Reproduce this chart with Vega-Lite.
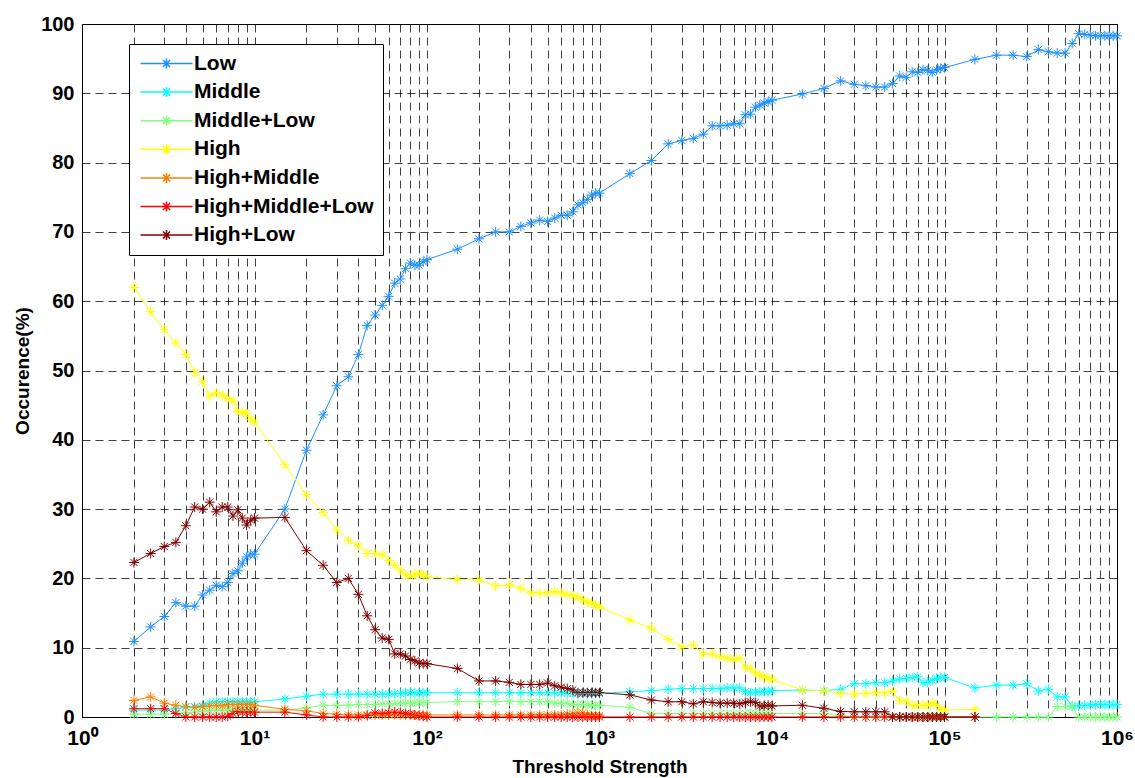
{
  "$schema": "https://vega.github.io/schema/vega-lite/v6.json",
  "width": 1035,
  "height": 693,
  "autosize": {"type": "none"},
  "padding": {"left": 82, "top": 24, "right": 18, "bottom": 61},
  "background": "white",
  "config": {"view": {"stroke": "black", "strokeWidth": 1}, "font": "Liberation Sans"},
  "data": {"values": [
    {"x":2,"Low":10.9,"Middle":1.0,"Middle+Low":0.4,"High":62.0,"High+Middle":2.4,"High+Middle+Low":1.2,"High+Low":22.3},
    {"x":2.5,"Low":13.0,"Middle":1.0,"Middle+Low":0.4,"High":58.5,"High+Middle":2.9,"High+Middle+Low":1.2,"High+Low":23.6},
    {"x":3,"Low":14.5,"Middle":1.0,"Middle+Low":0.4,"High":55.9,"High+Middle":2.0,"High+Middle+Low":1.2,"High+Low":24.6},
    {"x":3.5,"Low":16.5,"Middle":1.2,"Middle+Low":0.5,"High":54.0,"High+Middle":1.7,"High+Middle+Low":0.5,"High+Low":25.2},
    {"x":4,"Low":16.0,"Middle":1.4,"Middle+Low":0.6,"High":52.3,"High+Middle":1.5,"High+Middle+Low":0,"High+Low":27.6},
    {"x":4.5,"Low":16.0,"Middle":1.5,"Middle+Low":0.7,"High":49.7,"High+Middle":1.4,"High+Middle+Low":0,"High+Low":30.3},
    {"x":5,"Low":17.6,"Middle":1.7,"Middle+Low":0.8,"High":48.4,"High+Middle":1.5,"High+Middle+Low":0,"High+Low":30.0},
    {"x":5.5,"Low":18.3,"Middle":2.0,"Middle+Low":0.9,"High":46.3,"High+Middle":1.6,"High+Middle+Low":0,"High+Low":31.0},
    {"x":6,"Low":19.0,"Middle":2.2,"Middle+Low":1.0,"High":46.8,"High+Middle":1.7,"High+Middle+Low":0,"High+Low":29.6},
    {"x":6.5,"Low":18.8,"Middle":2.2,"Middle+Low":1.0,"High":46.4,"High+Middle":1.6,"High+Middle+Low":0,"High+Low":30.3},
    {"x":7,"Low":19.4,"Middle":2.2,"Middle+Low":1.0,"High":46.0,"High+Middle":1.8,"High+Middle+Low":0.1,"High+Low":30.3},
    {"x":7.5,"Low":20.7,"Middle":2.2,"Middle+Low":1.0,"High":45.6,"High+Middle":1.8,"High+Middle+Low":0.5,"High+Low":29.0},
    {"x":8,"Low":21.1,"Middle":2.2,"Middle+Low":1.0,"High":44.1,"High+Middle":1.8,"High+Middle+Low":0.8,"High+Low":29.9},
    {"x":8.5,"Low":22.2,"Middle":2.2,"Middle+Low":1.0,"High":43.9,"High+Middle":1.8,"High+Middle+Low":0.7,"High+Low":28.7},
    {"x":9,"Low":23.1,"Middle":2.2,"Middle+Low":1.0,"High":43.8,"High+Middle":1.8,"High+Middle+Low":0.7,"High+Low":27.7},
    {"x":9.5,"Low":23.5,"Middle":2.2,"Middle+Low":1.0,"High":42.9,"High+Middle":1.8,"High+Middle+Low":0.7,"High+Low":28.4},
    {"x":10,"Low":23.5,"Middle":2.2,"Middle+Low":1.0,"High":42.6,"High+Middle":1.7,"High+Middle+Low":0.7,"High+Low":28.7},
    {"x":15,"Low":30.0,"Middle":2.6,"Middle+Low":1.0,"High":36.4,"High+Middle":1.1,"High+Middle+Low":0.7,"High+Low":28.8},
    {"x":20,"Low":38.5,"Middle":3.0,"Middle+Low":1.3,"High":32.1,"High+Middle":0.9,"High+Middle+Low":0.3,"High+Low":24.0},
    {"x":25,"Low":43.6,"Middle":3.3,"Middle+Low":1.7,"High":29.5,"High+Middle":0.5,"High+Middle+Low":0,"High+Low":21.9},
    {"x":30,"Low":47.8,"Middle":3.3,"Middle+Low":1.7,"High":27.0,"High+Middle":0.4,"High+Middle+Low":0,"High+Low":19.4},
    {"x":35,"Low":49.1,"Middle":3.3,"Middle+Low":1.7,"High":25.5,"High+Middle":0.3,"High+Middle+Low":0,"High+Low":20.0},
    {"x":40,"Low":52.3,"Middle":3.3,"Middle+Low":1.8,"High":24.7,"High+Middle":0.3,"High+Middle+Low":0,"High+Low":17.7},
    {"x":45,"Low":56.5,"Middle":3.3,"Middle+Low":1.8,"High":23.6,"High+Middle":0.3,"High+Middle+Low":0.2,"High+Low":14.6},
    {"x":50,"Low":58.0,"Middle":3.3,"Middle+Low":1.8,"High":23.6,"High+Middle":0.3,"High+Middle+Low":0.6,"High+Low":12.6},
    {"x":55,"Low":59.4,"Middle":3.3,"Middle+Low":1.9,"High":23.4,"High+Middle":0.3,"High+Middle+Low":0.5,"High+Low":11.4},
    {"x":60,"Low":60.7,"Middle":3.3,"Middle+Low":1.9,"High":22.6,"High+Middle":0.3,"High+Middle+Low":0.6,"High+Low":11.2},
    {"x":65,"Low":62.6,"Middle":3.4,"Middle+Low":1.9,"High":21.9,"High+Middle":0.3,"High+Middle+Low":0.7,"High+Low":9.1},
    {"x":70,"Low":63.2,"Middle":3.4,"Middle+Low":2.0,"High":21.2,"High+Middle":0.3,"High+Middle+Low":0.6,"High+Low":9.1},
    {"x":75,"Low":64.7,"Middle":3.5,"Middle+Low":2.0,"High":20.5,"High+Middle":0.3,"High+Middle+Low":0.5,"High+Low":8.8},
    {"x":80,"Low":65.5,"Middle":3.5,"Middle+Low":2.0,"High":20.3,"High+Middle":0.3,"High+Middle+Low":0.4,"High+Low":8.3},
    {"x":85,"Low":65.2,"Middle":3.5,"Middle+Low":2.1,"High":20.6,"High+Middle":0.3,"High+Middle+Low":0.3,"High+Low":8.1},
    {"x":90,"Low":65.2,"Middle":3.5,"Middle+Low":2.1,"High":20.7,"High+Middle":0.3,"High+Middle+Low":0.2,"High+Low":7.8},
    {"x":95,"Low":65.7,"Middle":3.5,"Middle+Low":2.1,"High":20.5,"High+Middle":0.3,"High+Middle+Low":0.1,"High+Low":7.7},
    {"x":100,"Low":66.0,"Middle":3.5,"Middle+Low":2.1,"High":20.3,"High+Middle":0.3,"High+Middle+Low":0,"High+Low":7.7},
    {"x":150,"Low":67.5,"Middle":3.5,"Middle+Low":2.2,"High":19.8,"High+Middle":0.3,"High+Middle+Low":0,"High+Low":7.0},
    {"x":200,"Low":69.0,"Middle":3.5,"Middle+Low":2.2,"High":19.8,"High+Middle":0.3,"High+Middle+Low":0,"High+Low":5.2},
    {"x":250,"Low":70.0,"Middle":3.5,"Middle+Low":2.2,"High":18.9,"High+Middle":0.3,"High+Middle+Low":0,"High+Low":5.2},
    {"x":300,"Low":70.0,"Middle":3.5,"Middle+Low":2.3,"High":19.1,"High+Middle":0.3,"High+Middle+Low":0,"High+Low":5.0},
    {"x":350,"Low":70.8,"Middle":3.5,"Middle+Low":2.2,"High":18.6,"High+Middle":0.3,"High+Middle+Low":0,"High+Low":4.7},
    {"x":400,"Low":71.3,"Middle":3.5,"Middle+Low":2.2,"High":17.9,"High+Middle":0.3,"High+Middle+Low":0,"High+Low":4.7},
    {"x":450,"Low":71.7,"Middle":3.5,"Middle+Low":2.2,"High":17.9,"High+Middle":0.3,"High+Middle+Low":0,"High+Low":4.7},
    {"x":500,"Low":71.5,"Middle":3.5,"Middle+Low":2.2,"High":17.9,"High+Middle":0.3,"High+Middle+Low":0,"High+Low":4.9},
    {"x":550,"Low":72.0,"Middle":3.5,"Middle+Low":2.0,"High":18.1,"High+Middle":0.3,"High+Middle+Low":0,"High+Low":4.5},
    {"x":600,"Low":72.4,"Middle":3.5,"Middle+Low":2.0,"High":17.9,"High+Middle":0.3,"High+Middle+Low":0,"High+Low":4.3},
    {"x":650,"Low":72.4,"Middle":3.4,"Middle+Low":2.0,"High":17.7,"High+Middle":0.4,"High+Middle+Low":0,"High+Low":4.1},
    {"x":700,"Low":72.9,"Middle":3.4,"Middle+Low":1.8,"High":17.5,"High+Middle":0.5,"High+Middle+Low":0,"High+Low":3.9},
    {"x":750,"Low":73.9,"Middle":3.4,"Middle+Low":1.8,"High":17.3,"High+Middle":0.6,"High+Middle+Low":0,"High+Low":3.5},
    {"x":800,"Low":74.2,"Middle":3.4,"Middle+Low":1.8,"High":16.9,"High+Middle":0.6,"High+Middle+Low":0,"High+Low":3.5},
    {"x":850,"Low":74.7,"Middle":3.4,"Middle+Low":1.8,"High":16.6,"High+Middle":0.3,"High+Middle+Low":0,"High+Low":3.5},
    {"x":900,"Low":75.3,"Middle":3.4,"Middle+Low":1.7,"High":16.4,"High+Middle":0.2,"High+Middle+Low":0,"High+Low":3.5},
    {"x":950,"Low":75.6,"Middle":3.4,"Middle+Low":1.7,"High":16.2,"High+Middle":0.2,"High+Middle+Low":0,"High+Low":3.5},
    {"x":1000,"Low":75.6,"Middle":3.4,"Middle+Low":1.7,"High":15.9,"High+Middle":0.2,"High+Middle+Low":0,"High+Low":3.5},
    {"x":1500,"Low":78.4,"Middle":3.65,"Middle+Low":1.4,"High":14.0,"High+Middle+Low":0,"High+Low":3.2},
    {"x":2000,"Low":80.3,"Middle":3.8,"Middle+Low":0.5,"High":12.8,"High+Middle+Low":0,"High+Low":2.45},
    {"x":2500,"Low":82.7,"Middle":4.0,"Middle+Low":0.5,"High":11.2,"High+Middle+Low":0,"High+Low":2.2},
    {"x":3000,"Low":83.2,"Middle":4.1,"Middle+Low":0.5,"High":10.1,"High+Middle+Low":0,"High+Low":2.2},
    {"x":3500,"Low":83.5,"Middle":4.1,"Middle+Low":0.5,"High":10.4,"High+Middle+Low":0,"High+Low":1.9},
    {"x":4000,"Low":84.1,"Middle":4.1,"Middle+Low":0.5,"High":9.1,"High+Middle+Low":0,"High+Low":2.2},
    {"x":4500,"Low":85.3,"Middle":4.1,"Middle+Low":0.5,"High":9.1,"High+Middle+Low":0,"High+Low":2.1},
    {"x":5000,"Low":85.3,"Middle":4.1,"Middle+Low":0.5,"High":8.7,"High+Middle+Low":0,"High+Low":2.0},
    {"x":5500,"Low":85.4,"Middle":4.2,"Middle+Low":0.5,"High":8.5,"High+Middle+Low":0,"High+Low":2.0},
    {"x":6000,"Low":85.6,"Middle":4.2,"Middle+Low":0.5,"High":8.3,"High+Middle+Low":0,"High+Low":2.0},
    {"x":6500,"Low":85.6,"Middle":4.2,"Middle+Low":0.5,"High":8.5,"High+Middle+Low":0,"High+Low":1.9},
    {"x":7000,"Low":86.9,"Middle":3.65,"Middle+Low":0.5,"High":7.2,"High+Middle+Low":0,"High+Low":2.1},
    {"x":7500,"Low":87.0,"Middle":3.5,"Middle+Low":0.5,"High":7.0,"High+Middle+Low":0,"High+Low":2.2},
    {"x":8000,"Low":88.0,"Middle":3.6,"Middle+Low":0.5,"High":6.4,"High+Middle+Low":0,"High+Low":2.1},
    {"x":8500,"Low":88.3,"Middle":3.6,"Middle+Low":0.5,"High":6.0,"High+Middle+Low":0,"High+Low":1.6},
    {"x":9000,"Low":88.6,"Middle":3.7,"Middle+Low":0.5,"High":5.8,"High+Middle+Low":0,"High+Low":1.6},
    {"x":9500,"Low":88.8,"Middle":3.7,"Middle+Low":0.5,"High":5.6,"High+Middle+Low":0,"High+Low":1.7},
    {"x":10000,"Low":89.0,"Middle":3.8,"Middle+Low":0.5,"High":5.4,"High+Middle+Low":0,"High+Low":1.6},
    {"x":15000,"Low":89.9,"Middle":3.9,"Middle+Low":0.5,"High":3.9,"High+Middle+Low":0,"High+Low":1.7},
    {"x":20000,"Low":90.7,"Middle":3.8,"Middle+Low":0.5,"High":3.8,"High+Middle+Low":0,"High+Low":1.25},
    {"x":25000,"Low":91.8,"Middle":4.0,"Middle+Low":0.2,"High":3.4,"High+Middle+Low":0,"High+Low":0.8},
    {"x":30000,"Low":91.3,"Middle":4.8,"Middle+Low":0,"High":3.3,"High+Middle+Low":0,"High+Low":0.75},
    {"x":35000,"Low":91.1,"Middle":4.8,"Middle+Low":0,"High":3.4,"High+Middle+Low":0,"High+Low":0.75},
    {"x":40000,"Low":90.9,"Middle":4.95,"Middle+Low":0,"High":3.5,"High+Middle+Low":0,"High+Low":0.75},
    {"x":45000,"Low":90.9,"Middle":4.95,"Middle+Low":0,"High":3.5,"High+Middle+Low":0,"High+Low":0.75},
    {"x":50000,"Low":91.4,"Middle":5.2,"Middle+Low":0,"High":3.7,"High+Middle+Low":0,"High+Low":0},
    {"x":55000,"Low":92.5,"Middle":5.5,"Middle+Low":0,"High":2.4,"High+Middle+Low":0,"High+Low":0},
    {"x":60000,"Low":92.3,"Middle":5.6,"Middle+Low":0,"High":2.3,"High+Middle+Low":0,"High+Low":0},
    {"x":65000,"Low":93.1,"Middle":5.7,"Middle+Low":0,"High":1.7,"High+Middle+Low":0,"High+Low":0},
    {"x":70000,"Low":93.0,"Middle":5.8,"Middle+Low":0,"High":1.7,"High+Middle+Low":0,"High+Low":0},
    {"x":75000,"Low":93.4,"Middle":4.95,"Middle+Low":0,"High":1.7,"High+Middle+Low":0,"High+Low":0},
    {"x":80000,"Low":93.3,"Middle":5.05,"Middle+Low":0,"High":1.7,"High+Middle+Low":0,"High+Low":0},
    {"x":85000,"Low":93.0,"Middle":5.3,"Middle+Low":0,"High":2.0,"High+Middle+Low":0,"High+Low":0},
    {"x":90000,"Low":93.4,"Middle":5.6,"Middle+Low":0,"High":1.7,"High+Middle+Low":0,"High+Low":0},
    {"x":95000,"Low":93.6,"Middle":5.7,"Middle+Low":0,"High":1.1,"High+Middle+Low":0,"High+Low":0},
    {"x":100000,"Low":93.7,"Middle":5.7,"Middle+Low":0,"High":1.0,"High+Middle+Low":0,"High+Low":0},
    {"x":150000,"Low":94.9,"Middle":4.2,"Middle+Low":0,"High":1.1,"High+Middle+Low":0,"High+Low":0},
    {"x":200000,"Low":95.5,"Middle":4.6,"Middle+Low":0},
    {"x":250000,"Low":95.5,"Middle":4.6,"Middle+Low":0},
    {"x":300000,"Low":95.3,"Middle":4.8,"Middle+Low":0},
    {"x":350000,"Low":96.3,"Middle":3.75,"Middle+Low":0},
    {"x":400000,"Low":96.0,"Middle":4.0,"Middle+Low":0},
    {"x":450000,"Low":95.8,"Middle":2.9,"Middle+Low":1.5},
    {"x":500000,"Low":95.8,"Middle":2.9,"Middle+Low":1.5},
    {"x":550000,"Low":97.2,"Middle":1.6,"Middle+Low":1.5},
    {"x":600000,"Low":98.6,"Middle":1.6,"Middle+Low":0},
    {"x":650000,"Low":98.5,"Middle":1.7,"Middle+Low":0},
    {"x":700000,"Low":98.4,"Middle":1.7,"Middle+Low":0},
    {"x":750000,"Low":98.3,"Middle":1.8,"Middle+Low":0},
    {"x":800000,"Low":98.3,"Middle":1.8,"Middle+Low":0},
    {"x":850000,"Low":98.3,"Middle":1.8,"Middle+Low":0},
    {"x":900000,"Low":98.3,"Middle":1.8,"Middle+Low":0},
    {"x":950000,"Low":98.3,"Middle":1.8,"Middle+Low":0},
    {"x":1000000,"Low":98.3,"Middle":1.8,"Middle+Low":0}
  ]},
  "transform": [
    {"fold": ["Low", "Middle", "Middle+Low", "High", "High+Middle", "High+Middle+Low", "High+Low"], "as": ["series", "value"]},
    {"filter": "isValid(datum.value)"}
  ],
  "mark": {
    "type": "line",
    "strokeWidth": 1,
    "point": {"shape": "M-1,0L1,0M0,-1L0,1M-0.71,-0.71L0.71,0.71M-0.71,0.71L0.71,-0.71", "filled": false, "size": 100, "strokeWidth": 1}
  },
  "encoding": {
    "x": {
      "field": "x",
      "type": "quantitative",
      "scale": {"type": "log", "domain": [1, 1000000], "nice": false},
      "axis": {
        "title": "Threshold Strength",
        "values": [1,2,3,4,5,6,7,8,9,10,20,30,40,50,60,70,80,90,100,200,300,400,500,600,700,800,900,1000,2000,3000,4000,5000,6000,7000,8000,9000,10000,20000,30000,40000,50000,60000,70000,80000,90000,100000,200000,300000,400000,500000,600000,700000,800000,900000,1000000],
        "labelExpr": "abs(log(datum.value)/LN10 - round(log(datum.value)/LN10)) < 0.001 ? '10' + ['⁰','¹','²','³','⁴','⁵','⁶'][round(log(datum.value)/LN10)] : ''",
        "grid": true,
        "gridDash": [8, 5],
        "gridColor": "black",
        "gridOpacity": 0.75,
        "ticks": false,
        "domain": false,
        "labelFont": "Liberation Sans",
        "labelFontSize": 21,
        "labelFontWeight": "bold",
        "labelColor": "black",
        "labelPadding": 10,
        "labelFlush": false,
        "labelOverlap": false,
        "titleFont": "Liberation Sans",
        "titleFontSize": 19,
        "titleFontWeight": "bold",
        "titleColor": "black",
        "titlePadding": 9
      }
    },
    "y": {
      "field": "value",
      "type": "quantitative",
      "scale": {"domain": [0, 100], "nice": false},
      "axis": {
        "title": "Occurence(%)",
        "values": [0,10,20,30,40,50,60,70,80,90,100],
        "grid": true,
        "gridDash": [8, 5],
        "gridColor": "black",
        "gridOpacity": 0.75,
        "ticks": false,
        "domain": false,
        "labelFont": "Liberation Sans",
        "labelFontSize": 20,
        "labelFontWeight": "bold",
        "labelColor": "black",
        "labelPadding": 8,
        "labelFlush": false,
        "titleFont": "Liberation Sans",
        "titleFontSize": 19,
        "titleFontWeight": "bold",
        "titleColor": "black",
        "titlePadding": 8
      }
    },
    "color": {
      "field": "series",
      "type": "nominal",
      "scale": {
        "domain": ["Low", "Middle", "Middle+Low", "High", "High+Middle", "High+Middle+Low", "High+Low"],
        "range": ["#1e90ff", "#00ffff", "#80ff80", "#ffff00", "#ff8000", "#ff0000", "#800000"]
      },
      "legend": {
        "title": null,
        "orient": "none",
        "legendX": 47,
        "legendY": 20,
        "symbolType": "M-5.2,0L5.2,0M0,-1L0,1M-0.71,-0.71L0.71,0.71M-0.71,0.71L0.71,-0.71",
        "symbolSize": 100,
        "symbolStrokeWidth": 1.5,
        "symbolFillColor": "transparent",
        "symbolOffset": 18,
        "labelOffset": 17,
        "labelFont": "Liberation Sans",
        "labelFontSize": 21,
        "labelFontWeight": "bold",
        "labelColor": "black",
        "labelLimit": 400,
        "rowPadding": 6.6,
        "padding": 9,
        "strokeColor": "black",
        "fillColor": "white"
      }
    }
  }
}
